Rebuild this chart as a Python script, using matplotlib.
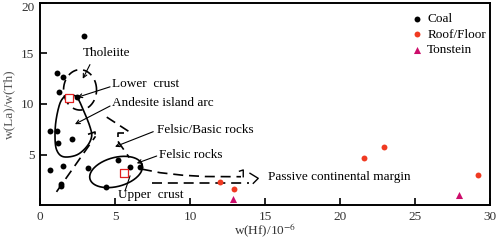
import numpy as np
import matplotlib
matplotlib.use("Agg")
import matplotlib.pyplot as plt
from matplotlib.transforms import ScaledTranslation

plt.rcParams['font.family'] = ['Liberation Serif', 'DejaVu Serif']
plt.rcParams['mathtext.fontset'] = 'stix'

# ---- data ----
coal_x = [2.95, 1.15, 1.5, 1.27, 2.45, 0.67, 1.15, 1.22, 2.1, 0.67, 1.55, 3.2, 1.38, 1.38, 5.2, 6.0, 6.67, 4.4]
coal_y = [16.7, 13.1, 12.7, 11.2, 10.7, 7.3, 7.3, 6.1, 6.5, 3.5, 3.9, 3.7, 2.1, 1.9, 4.5, 3.8, 3.8, 1.75]
roof_x = [12.0, 12.93, 21.6, 22.9, 29.2]
roof_y = [2.3, 1.6, 4.7, 5.7, 3.0]
ton_x = [12.85, 27.9]
ton_y = [0.6, 0.95]
crust_x = [1.93, 5.6]          # lower crust, upper crust
crust_y = [10.6, 3.2]

xticks = [0, 5, 10, 15, 20, 25, 30]
yticks = [5, 10, 15, 20]

# field outlines (data coordinates)
andesite_x = [1.89, 2.44, 2.89, 3.33, 3.44, 3.11, 2.44, 1.55, 1.11, 1.0, 1.07, 1.33, 1.67]
andesite_y = [10.9, 10.7, 9.4, 7.75, 6.76, 5.77, 4.95, 4.78, 5.45, 6.76, 8.4, 10.07, 10.8]
thol_center = (2.67, 11.4)
thol_size = (2.2, 4.0)
felsic_center = (5.07, 3.27)
felsic_axes_px = (27, 14.5, 15)   # semi-axes in px and tilt

arrow_lines = [
    ([1.1, 3.7], [1.3, 6.8]),
    ([3.2, 3.67, 3.67], [7.0, 7.23, 6.73]),
    ([4.45, 5.9], [8.7, 7.3]),
    ([5.6, 5.2, 5.2], [7.1, 7.1, 6.5]),
    ([5.2, 5.95], [6.3, 4.7]),
    ([6.8, 8.0, 9.5, 11.0, 13.4], [3.55, 3.2, 2.95, 2.82, 2.8]),
    ([7.45, 13.9], [2.15, 2.15]),
]
hook_x = [13.3, 13.55, 13.55]
hook_y = [3.35, 3.47, 2.8]
head_x = [14.0, 14.55, 14.22]
head_y = [3.14, 2.64, 2.15]

W, H = 498, 242
fig = plt.figure(figsize=(W / 100, H / 100), dpi=100)
ax = fig.add_axes([40 / W, 1 - 205 / H, 450 / W, 202 / H])
ax.set_xlim(0, 30)
ax.set_ylim(0, 20)

sx = 450 / 30.0
sy = 202 / 20.0

# Andesite island arc: closed Catmull-Rom
def catmull_closed(xs, ys, n=30):
    P = np.column_stack([xs, ys])
    m = len(P)
    out = []
    for i in range(m):
        p0, p1, p2, p3 = P[i - 1], P[i], P[(i + 1) % m], P[(i + 2) % m]
        t = np.linspace(0, 1, n, endpoint=False)[:, None]
        pts = 0.5 * ((2 * p1) + (-p0 + p2) * t + (2 * p0 - 5 * p1 + 4 * p2 - p3) * t ** 2
                     + (-p0 + 3 * p1 - 3 * p2 + p3) * t ** 3)
        out.append(pts)
    out = np.vstack(out)
    return np.vstack([out, out[:1]])

a = catmull_closed(andesite_x, andesite_y)
ax.plot(a[:, 0], a[:, 1], color='black', lw=1.2, zorder=2)

# Tholeiite dashed ellipse
t = np.linspace(0, 2 * np.pi, 200)
ax.plot(thol_center[0] + thol_size[0] / 2 * np.cos(t), thol_center[1] + thol_size[1] / 2 * np.sin(t),
        color='black', lw=1.2, ls=(0, (6, 3.5)), zorder=2)

# Felsic rocks ellipse
A, B, phi = felsic_axes_px
phi = np.deg2rad(phi)
ex = felsic_center[0] + (A * np.cos(t) * np.cos(phi) - B * np.sin(t) * np.sin(phi)) / sx
ey = felsic_center[1] + (A * np.cos(t) * np.sin(phi) + B * np.sin(t) * np.cos(phi)) / sy
ax.plot(ex, ey, color='black', lw=1.2, zorder=2)

# big dashed arrow
for xs, ys in arrow_lines:
    ax.plot(xs, ys, color='black', lw=1.2, ls=(0, (6, 3.5)), zorder=2)
ax.plot(hook_x, hook_y, color='black', lw=1.0, zorder=2)
ax.plot(head_x, head_y, color='black', lw=1.0, zorder=2)

# points
ax.scatter(coal_x, coal_y, s=18, color='black', zorder=3, label='Coal', linewidths=0)
ax.scatter(roof_x, roof_y, s=18, color='#f03a22', zorder=3, label='Roof/Floor', linewidths=0)
ax.scatter(ton_x, ton_y, s=26, marker='^', color='#cc0d6b', zorder=3, label='Tonstein', linewidths=0)
ax.scatter(crust_x, crust_y, s=26, marker='s', facecolors='white', edgecolors='#e02020',
           linewidths=0.9, zorder=4)

# annotations
fs = 9.5
ap = dict(arrowstyle='->', lw=0.8, color='black', shrinkA=0, shrinkB=0, mutation_scale=7)
ax.text(2.87, 15.05, 'Tholeiite', fontsize=fs, va='center', ha='left')
ax.annotate('', xy=(2.85, 12.5), xytext=(3.33, 13.9), arrowprops=ap)
ax.text(4.82, 11.95, 'Lower  crust', fontsize=fs, va='center', ha='left')
ax.annotate('', xy=(2.49, 10.66), xytext=(4.67, 11.7), arrowprops=ap)
ax.text(4.82, 10.07, 'Andesite island arc', fontsize=fs, va='center', ha='left')
ax.annotate('', xy=(2.33, 8.0), xytext=(4.67, 9.8), arrowprops=ap)
ax.text(7.78, 7.43, 'Felsic/Basic rocks', fontsize=fs, va='center', ha='left')
ax.annotate('', xy=(5.0, 5.77), xytext=(7.55, 7.26), arrowprops=ap)
ax.text(7.95, 4.95, 'Felsic rocks', fontsize=fs, va='center', ha='left')
ax.annotate('', xy=(6.45, 4.13), xytext=(7.78, 4.85), arrowprops=ap)
ax.text(5.22, 1.0, 'Upper  crust', fontsize=fs, va='center', ha='left')
ax.plot([6.0, 5.67], [2.87, 1.4], color='black', lw=0.8, zorder=2)
ax.text(15.22, 2.8, 'Passive continental margin', fontsize=fs, va='center', ha='left')

# axes styling
ax.set_xticks(xticks)
ax.set_yticks(yticks)
ax.set_xticklabels([str(v) for v in xticks])
ax.set_yticklabels([str(v) for v in yticks])
ax.tick_params(direction='in', length=5, width=1.2, labelsize=9.5, labelcolor='#333333', pad=4)
for sp in ax.spines.values():
    sp.set_linewidth(1.4)
top_lbl = ax.get_yticklabels()[-1]
top_lbl.set_transform(top_lbl.get_transform() + ScaledTranslation(0, -4 / 100, fig.dpi_scale_trans))
ax.set_xlabel('w(Hf)/10$^{-6}$', fontsize=9.5, color='#333333', labelpad=-0.5)
ax.set_ylabel('w(La)/w(Th)', fontsize=9.5, color='#555555', labelpad=4.5)

leg = ax.legend(loc='upper right', bbox_to_anchor=(1 - 4 / 450, 1 - 10 / 202), frameon=False,
                fontsize=9.5, handletextpad=0.35, labelspacing=0.25, borderaxespad=0,
                borderpad=0, handlelength=0.8, scatterpoints=1)

fig.savefig('out.png', dpi=100)
